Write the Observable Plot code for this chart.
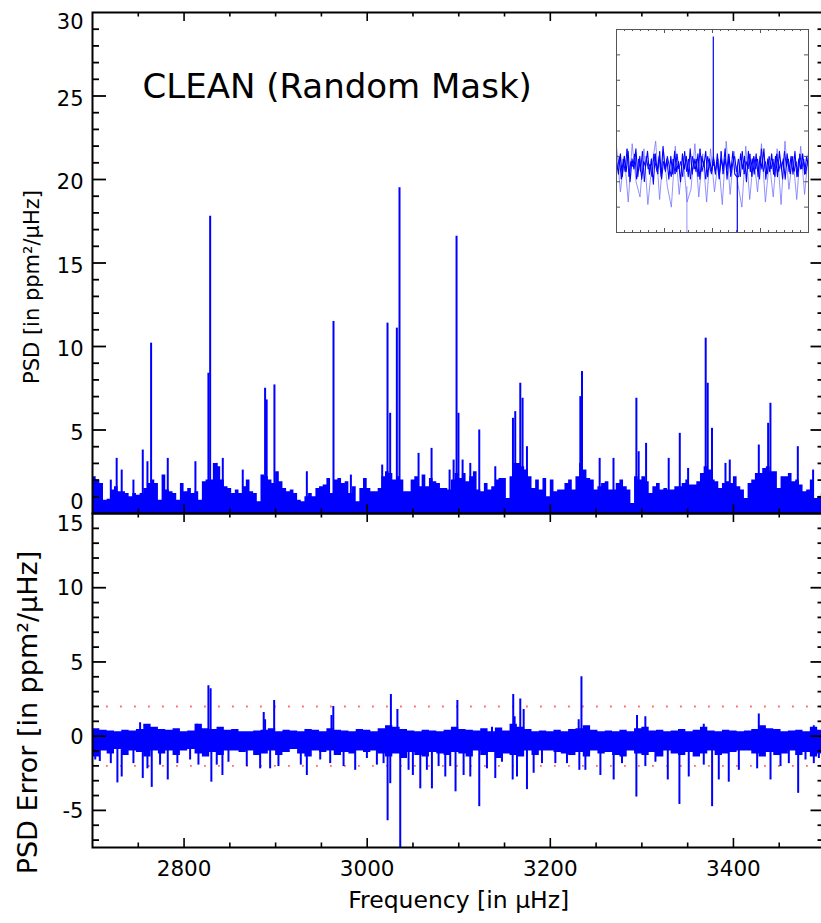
<!DOCTYPE html>
<html><head><meta charset="utf-8">
<script src="https://cdn.jsdelivr.net/npm/d3@7"></script>
<script src="https://cdn.jsdelivr.net/npm/@observablehq/plot@0.6"></script>
<style>
body{margin:0;background:#fff;}
#wrap{position:relative;width:821px;height:923px;overflow:hidden;background:#fff;}
.pane{position:absolute;}
</style></head><body><div id="wrap"></div>
<script>
// ---------------- DATA ----------------
// Top panel: PSD background level in 4 µHz bins starting at 2700 µHz
const topBase = [
  2.2,2.0,1.8,0.8,0.85,1.4,1.6,1.3,1.3,1.2,1.0,1.2,1.1,1.2,1.5,1.8,2.0,1.8,0.8,2.3,1.4,1.3,1.2,0.8,1.8,
  1.3,1.5,1.2,1.3,0.8,1.9,2.0,2.0,3.0,2.8,2.0,1.6,1.5,1.2,1.4,1.2,1.6,2.0,1.3,1.2,0.7,2.3,2.2,2.0,1.8,
  2.5,1.9,1.5,1.3,1.4,1.2,0.8,0.7,1.0,1.2,1.0,1.5,1.6,1.7,2.1,1.2,2.0,2.1,1.8,1.9,1.2,1.6,0.7,1.5,2.1,
  1.5,1.3,1.3,1.5,2.2,2.5,2.4,2.0,2.2,2.0,1.3,1.3,2.0,2.2,1.6,2.3,1.6,2.1,1.9,1.8,1.5,1.5,1.4,2.0,2.4,
  2.1,2.4,1.9,2.2,2.5,1.4,1.3,1.8,1.4,1.6,2.0,2.1,2.1,0.9,2.2,3.0,3.0,2.8,2.6,2.2,1.5,2.0,1.4,2.1,1.0,
  2.0,1.3,1.4,1.4,1.8,2.0,1.4,2.2,3.0,2.6,2.1,2.0,1.4,1.6,1.8,1.9,1.4,1.4,1.8,2.0,1.6,1.4,0.6,2.2,2.0,
  2.2,1.9,1.2,1.6,1.8,1.4,1.5,1.4,1.4,1.6,1.6,1.8,2.0,1.7,1.7,1.9,2.4,2.8,2.6,2.0,1.9,1.5,1.8,1.9,1.8,
  2.2,1.6,1.4,0.9,1.8,2.0,2.4,2.4,2.7,2.8,2.5,2.5,1.5,2.2,2.2,2.4,1.9,2.0,1.7,1.3,1.4,2.0,0.9,1.0,1.2
];
// Top panel: narrow peaks (frequency µHz, PSD)
const topSpikeFreq = [2720,2726.4,2731.9,2744.7,2754.9,2760,2764,2782.2,2812.4,2826.6,2828.5,2835.7,2842.3,2864.1,
  2888.5,2890.2,2898.7,2934.1,2963.2,2982.2,3016.4,3022.2,3025.1,3032.4,3035.3,3056.1,3070.3,3090,3094.4,
  3097.6,3099.7,3104.2,3112.6,3122.4,3139.9,3159.2,3161.7,3167.2,3169.7,3174.5,3232.8,3234.6,3253.9,3269,
  3294,3296.5,3304.6,3329.3,3341.4,3350.5,3369.7,3371.9,3376.6,3391.3,3396,3427.7,3437.9,3440.4,3470.3,3487];
const topSpikeVal = [2.0,3.3,2.6,2.0,3.8,3.1,10.2,3.3,3.1,8.4,17.8,3.0,3.3,2.6,
  7.5,6.8,7.7,2.5,11.5,2.3,2.9,11.4,6.0,11.1,19.5,3.6,3.9,2.6,3.2,
  16.6,6.0,3.2,3.0,5.0,2.8,5.7,6.1,7.8,6.9,4.0,7.0,8.5,3.3,3.3,
  6.9,3.7,4.2,3.3,4.8,2.7,10.5,7.8,5.1,3.0,3.2,4.1,5.4,6.6,4.0,2.6];

// Bottom panel: error band upper / lower edges in 8 µHz bins starting at 2700 µHz
const botUpper = [
  0.5,0.4,0.35,0.3,0.4,0.35,0.45,0.8,0.6,0.45,
  0.4,0.5,0.3,0.35,0.8,0.5,0.45,0.6,0.4,0.45,
  0.3,0.3,0.35,0.4,0.5,0.3,0.4,0.35,0.3,0.45,
  0.4,0.3,0.5,0.4,0.35,0.3,0.45,0.4,0.3,0.5,
  0.7,0.6,0.45,0.35,0.3,0.4,0.35,0.3,0.4,0.6,
  0.45,0.4,0.35,0.5,0.3,0.55,0.35,0.8,0.6,0.45,
  0.3,0.35,0.3,0.4,0.3,0.45,0.5,0.7,0.4,0.3,
  0.35,0.3,0.4,0.3,0.5,0.6,0.35,0.4,0.3,0.35,
  0.45,0.3,0.4,0.6,0.35,0.3,0.4,0.35,0.3,0.35,
  0.45,0.7,0.5,0.45,0.3,0.35,0.4,0.3,0.6,0.4
];
const botLower = [
  -1.4,-1.0,-1.2,-0.9,-1.3,-1.0,-1.1,-1.4,-1.0,-1.2,
  -1.0,-1.3,-1.0,-0.9,-1.2,-1.4,-1.1,-1.3,-1.0,-1.0,
  -1.1,-1.0,-1.3,-1.2,-1.0,-1.3,-1.1,-0.9,-1.2,-1.4,
  -1.0,-1.1,-1.0,-1.3,-1.1,-1.2,-1.0,-1.1,-1.0,-1.2,
  -1.4,-1.2,-1.5,-1.1,-1.3,-1.4,-1.1,-1.2,-1.3,-1.1,
  -1.2,-1.4,-1.0,-1.3,-1.1,-1.5,-1.2,-1.3,-1.4,-1.0,
  -1.3,-1.0,-1.0,-1.1,-1.2,-1.3,-1.1,-1.4,-1.0,-1.2,
  -1.1,-1.3,-1.4,-1.0,-1.2,-1.3,-1.1,-1.4,-1.0,-1.2,
  -1.3,-1.1,-1.4,-1.2,-1.0,-1.3,-1.2,-1.1,-1.0,-1.0,
  -1.2,-1.4,-1.1,-1.3,-1.2,-1.0,-1.3,-1.1,-1.4,-1.2
];
// Bottom panel: narrow excursions (frequency µHz, error)
const botSpikeFreq = [2752,2814,2826.6,2829,2887,2888.5,2898.4,2961,2963,3025.9,3033,3098.5,3136.3,3159.5,3161,
  3167.2,3170.9,3231,3234,3294.7,3303.8,3367.6,3427.7,3487.8,
  2703,2708,2720,2727.2,2731.9,2744.7,2754.9,2760,2764.7,2773.8,2782.2,2792.7,2806.6,2815.7,2829.8,2835.7,
  2841.9,2848.5,2868.5,2883.1,2894,2903.1,2927.5,2934.1,2948.7,2959.6,2974.2,2986.9,2999.7,3010.6,3017.9,
  3022.3,3025.2,3036.1,3045.2,3049.9,3058,3065.2,3070.7,3078,3085.3,3090.7,3096.5,3105.3,3112.6,3122.4,
  3130.8,3139.9,3147.2,3158.9,3163.6,3174.5,3181.8,3190.9,3205.5,3218.2,3231.7,3238.3,3254.7,3269.2,3278.3,
  3294,3303.8,3314.8,3328.3,3341,3351.2,3367.6,3376.7,3384,3394.9,3405.9,3425.9,3440.5,3451.4,3460.5,
  3470.7,3478.7,3487.8,3493.3];
const botSpikeVal = [0.9,0.8,3.4,3.2,1.6,1.1,2.4,1.4,2.0,2.8,1.8,2.4,0.6,2.8,1.3,
  2.5,1.8,1.1,4.0,1.4,1.3,0.8,1.5,0.7,
  -1.6,-1.7,-1.85,-3.15,-2.75,-1.85,-2.85,-2.2,-3.45,-1.95,-2.95,-1.85,-1.6,-1.95,-3.1,-1.95,
  -2.65,-1.75,-2.05,-2.2,-2.2,-2.05,-1.95,-2.65,-1.6,-1.85,-2.05,-2.3,-1.5,-1.95,-1.85,
  -5.7,-3.2,-8.5,-2.3,-2.65,-3.55,-2.3,-3.55,-2.05,-2.75,-2.05,-3.75,-2.65,-2.75,-4.75,
  -2.2,-2.85,-1.75,-2.95,-2.75,-3.6,-2.5,-1.85,-1.85,-1.85,-2.3,-2.3,-2.65,-2.95,-1.85,
  -4.1,-2.05,-1.75,-2.95,-4.6,-2.75,-1.95,-4.75,-2.95,-3.1,-2.3,-2.2,-2.95,-2.05,-1.85,
  -3.85,-1.6,-1.85,-1.5];
const thresholds = [2, -2];

// Inset traces (arbitrary units)
const insetDark = [
  2.8,2.3,3.1,2.2,3.0,2.4,3.2,2.0,2.9,2.5,
  3.3,2.2,3.0,2.1,2.8,2.6,3.2,2.3,2.9,1.9,
  3.1,2.4,3.0,2.2,3.4,2.5,2.9,2.1,3.0,2.3,
  3.2,2.4,2.8,2.0,3.1,2.5,3.0,2.2,3.3,2.3,
  2.9,2.4,3.1,2.1,3.0,2.6,3.2,2.2,2.9,2.4,
  2.9,2.3,3.1,2.2,2.9,2.5,3.3,2.1,3.0,2.4,
  3.2,2.3,2.2,2.2,3.1,2.5,3.0,2.0,3.2,2.4,
  2.9,2.3,3.1,2.2,3.0,2.5,3.3,2.1,2.9,2.4,
  3.1,2.3,3.0,2.2,3.2,2.5,2.9,2.1,3.1,2.4,
  3.0,2.3,3.2,2.2,2.9,2.5,3.1,2.3,3.0,2.6
];
const insetDark2 = [
  2.5,3.0,2.1,2.9,2.4,3.3,2.2,2.8,2.6,3.1,
  2.1,2.9,2.4,3.2,2.0,3.0,2.5,2.7,2.2,3.1,
  2.6,2.3,3.2,2.1,2.8,2.4,3.0,2.6,2.2,2.9,
  2.3,3.1,2.5,2.8,2.2,3.2,2.4,2.9,2.1,3.0,
  2.5,2.9,2.2,3.3,2.4,2.8,2.1,3.0,2.6,2.3,
  3.0,2.4,2.8,2.1,3.2,2.3,2.9,2.5,3.1,2.2,
  2.7,3.0,2.4,2.9,2.2,3.2,2.3,2.8,2.5,3.1,
  2.2,3.0,2.5,2.9,2.1,3.3,2.4,2.8,2.3,3.0,
  2.5,2.9,2.2,3.1,2.4,2.8,2.1,3.2,2.6,2.9,
  2.3,3.0,2.4,2.8,2.2,3.1,2.5,2.9,2.3,2.8
];
const insetLight = [3.4,1.6,3.0,1.2,3.5,2.0,1.4,3.3,1.1,2.6, 3.6,1.3,3.2,1.8,1.0,3.4,1.5,3.0,1.2,1.7,
  3.5,1.4,3.1,1.2,3.3,1.6,2.9,1.1,3.6,1.5, 3.2,1.9,1.0,3.4,1.3,3.0,1.6,3.5,1.2,2.8,
  1.4,3.3,1.1,3.6,1.7,3.0,1.3,3.4,1.5,3.2];
// Inset narrow features (position, extreme value)
const insetPeakX = [121, 151];
const insetPeakV = [7.7, -0.5];
const insetLightPeakX = [88];
const insetLightPeakV = [-0.3];

// Ticks and labels
const xMajor = [2800, 3000, 3200, 3400];
const xMinor = [2750, 2850, 2900, 2950, 3050, 3100, 3150, 3250, 3300, 3350, 3450];
const xLabels = ["2800", "3000", "3200", "3400"];
const topYMajor = [5, 10, 15, 20, 25];
const topYMinor = d3.range(1, 30).filter(v => v % 5 !== 0);
const topYLabels = ["0", "5", "10", "15", "20", "25", "30"];
const botYMajor = [-5, 0, 5, 10];
const botYMinor = d3.range(-7, 15).filter(v => v % 5 !== 0);
const botYLabels = ["-5", "0", "5", "10", "15"];
const insetYTicks = [1, 2, 3, 4, 5, 6, 7];
const insetXMajor = [60, 120, 180];
const insetXMinor = d3.range(10, 240, 10).filter(v => v % 60 !== 0);

const titleText = "CLEAN (Random Mask)";
const topYTitle = "PSD [in ppm²/μHz]";
const botYTitle = "PSD Error [in ppm²/μHz]";
const xTitle = "Frequency [in μHz]";

// ---------------- TABLES ----------------
const topTable = topBase.map((v, i) => ({f: 2700 + 4 * i, v}));
topTable.push({f: 3500, v: topBase[topBase.length - 1]});
const topSpikes = topSpikeFreq.map((f, i) => ({f, v: topSpikeVal[i]}));
const botTable = botUpper.map((hi, i) => ({f: 2700 + 8 * i, hi, lo: botLower[i]}));
botTable.push({f: 3500, hi: botUpper[botUpper.length - 1], lo: botLower[botLower.length - 1]});
const botSpikes = botSpikeFreq.map((f, i) => ({f, v: botSpikeVal[i]}));
const insetDarkTable = insetDark.map((v, i) => ({x: i * 240 / 99, v}));
const insetDark2Table = insetDark2.map((v, i) => ({x: (i + 0.5) * 240 / 100, v}));
const insetLightTable = insetLight.map((v, i) => ({x: i * 240 / 49, v}));
const insetPeaks = insetPeakX.map((x, i) => ({x, v: insetPeakV[i]}));
const insetLightPeaks = insetLightPeakX.map((x, i) => ({x, v: insetLightPeakV[i]}));

// ---------------- HELPERS ----------------
const FONT = "DejaVu Sans, sans-serif";
const W = 827, ML = 92, MR = 2.5;
const innerW = W - ML - MR;
function xTicks(vals, len, innerH, sw, color = "black") {
  return [
    Plot.tickX(vals, {x: d => d, insetTop: innerH - len, stroke: color, strokeWidth: sw}),
    Plot.tickX(vals, {x: d => d, insetBottom: innerH - len, stroke: color, strokeWidth: sw})
  ];
}
function yTicks(vals, len, iw, sw, color = "black") {
  return [
    Plot.tickY(vals, {y: d => d, insetRight: iw - len, stroke: color, strokeWidth: sw}),
    Plot.tickY(vals, {y: d => d, insetLeft: iw - len, stroke: color, strokeWidth: sw})
  ];
}
const svgStyle = "background:transparent;max-width:none;overflow:visible;";
const lab = {textAnchor: "end", fontSize: 21, fontFamily: FONT, fill: "black", frameAnchor: "left", dx: -9};

// ---------------- TOP PANEL ----------------
const topInnerH = 501;
const topPlot = Plot.plot({
  width: W, height: 520, marginLeft: ML, marginRight: MR, marginTop: 12, marginBottom: 7,
  style: svgStyle,
  x: {domain: [2700, 3500], axis: null},
  y: {domain: [0, 30], axis: null},
  marks: [
    Plot.areaY(topTable, {x: "f", y: "v", curve: "step-after", fill: "#0000ff", clip: true}),
    Plot.ruleX(topSpikes, {x: "f", y1: 0, y2: "v", stroke: "#0000ff", strokeWidth: 2, clip: true}),
    ...xTicks(xMajor, 9, topInnerH, 1.6),
    ...xTicks(xMinor, 4.5, topInnerH, 1.6),
    ...yTicks(topYMajor, 14, innerW, 1.8),
    ...yTicks(topYMinor, 7, innerW, 1.8),
    Plot.text(topYLabels.filter(d => d !== "0" && d !== "30"), {...lab, y: d => +d, text: d => d, dy: 3}),
    Plot.text(["30"], {...lab, y: d => +d, text: d => d, dy: 10}),
    Plot.text(["0"], {...lab, y: d => +d, text: d => d, dy: -11}),
    Plot.text([titleText], {frameAnchor: "top-left", dx: 50, dy: 61, textAnchor: "start", fontSize: 34, fontFamily: FONT, fill: "black"}),
    Plot.text([topYTitle], {frameAnchor: "left", dx: -60, dy: 24, rotate: -90, textAnchor: "middle", fontSize: 21, fontFamily: FONT, fill: "black"}),
    Plot.frame({stroke: "black", strokeWidth: 2})
  ]
});

// ---------------- BOTTOM PANEL ----------------
const botInnerH = 334;
const botPlot = Plot.plot({
  width: W, height: 423, marginLeft: ML, marginRight: MR, marginTop: 13, marginBottom: 76,
  style: svgStyle,
  x: {domain: [2700, 3500], axis: null},
  y: {domain: [-7.5, 15], axis: null},
  marks: [
    Plot.ruleY(thresholds, {y: d => d, stroke: "#ff6a6a", strokeWidth: 1.8, strokeDasharray: "1.8,12.2"}),
    Plot.areaY(botTable, {x: "f", y1: "lo", y2: "hi", curve: "step-after", fill: "#0000ff", clip: true}),
    Plot.ruleX(botSpikes, {x: "f", y1: 0, y2: "v", stroke: "#0000ff", strokeWidth: 2, clip: true}),
    ...xTicks(xMajor, 9, botInnerH, 1.6),
    ...xTicks(xMinor, 4.5, botInnerH, 1.6),
    ...yTicks(botYMajor, 14, innerW, 1.8),
    ...yTicks(botYMinor, 7, innerW, 1.8),
    Plot.text(xLabels, {x: d => +d, frameAnchor: "bottom", text: d => d, dy: 28, fontSize: 21.5, fontFamily: FONT, fill: "black"}),
    Plot.text(botYLabels.filter(d => d !== "15"), {...lab, y: d => +d, text: d => d, dy: 1}),
    Plot.text(["15"], {...lab, y: d => +d, text: d => d, dy: 11}),
    Plot.text([botYTitle], {frameAnchor: "left", dx: -64, dy: 32, rotate: -90, textAnchor: "middle", fontSize: 27, fontFamily: FONT, fill: "black"}),
    Plot.text([xTitle], {frameAnchor: "bottom", dy: 60, fontSize: 23.5, fontFamily: FONT, fill: "black"}),
    Plot.frame({stroke: "black", strokeWidth: 2})
  ]
});

// ---------------- INSET ----------------
const insetPlot = Plot.plot({
  width: 194, height: 205, margin: 1,
  style: "background:white;max-width:none;overflow:visible;",
  x: {domain: [0, 240], axis: null},
  y: {domain: [0, 8], axis: null},
  marks: [
    Plot.lineY(insetLightTable, {x: "x", y: "v", stroke: "#6f6fff", strokeOpacity: 0.75, strokeWidth: 1, clip: true}),
    Plot.ruleX(insetLightPeaks, {x: "x", y1: 1.8, y2: "v", stroke: "#6f6fff", strokeOpacity: 0.75, strokeWidth: 1, clip: true}),
    Plot.lineY(insetDark2Table, {x: "x", y: "v", stroke: "#0000ff", strokeWidth: 1, clip: true}),
    Plot.lineY(insetDarkTable, {x: "x", y: "v", stroke: "#0000ff", strokeWidth: 1.1, clip: true}),
    Plot.ruleX(insetPeaks, {x: "x", y1: 2.6, y2: "v", stroke: "#0000ff", strokeWidth: 1.2, clip: true}),
    Plot.tickX(insetXMajor, {x: d => d, insetTop: 203 - 4, stroke: "#555", strokeWidth: 1}),
    Plot.tickX(insetXMajor, {x: d => d, insetBottom: 203 - 4, stroke: "#555", strokeWidth: 1}),
    ...xTicks(insetXMinor, 2, 203, 1, "#555"),
    ...yTicks(insetYTicks, 4, 192, 1, "#555"),
    Plot.frame({stroke: "#555", strokeWidth: 1})
  ]
});

// ---------------- LAYOUT ----------------
const wrap = document.getElementById("wrap");
function place(node, left, top) {
  const d = document.createElement("div");
  d.className = "pane";
  d.style.left = left + "px";
  d.style.top = top + "px";
  d.appendChild(node);
  wrap.appendChild(d);
}
place(topPlot, 0, 0);
place(botPlot, 0, 500);
place(insetPlot, 615, 28);
</script></body></html>
